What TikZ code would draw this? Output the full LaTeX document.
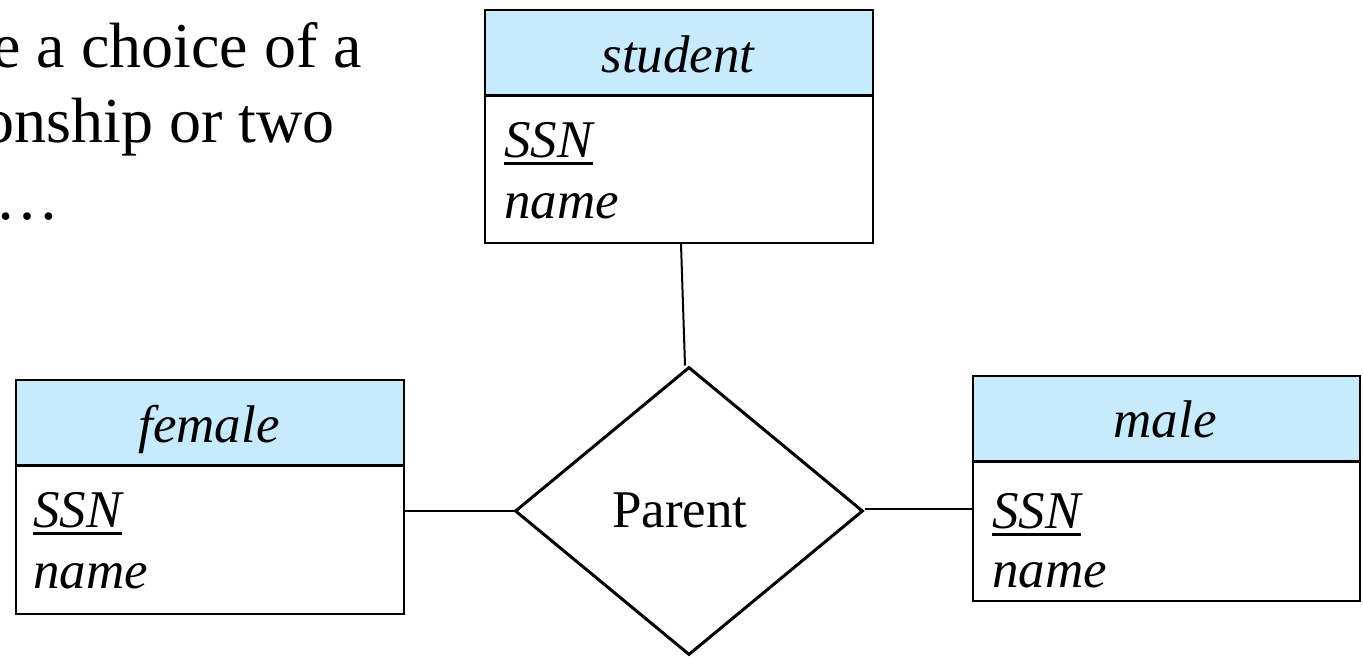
\documentclass[tikz,border=0pt]{standalone}
\usepackage{fontspec}
\setmainfont{Liberation Serif}
\usetikzlibrary{shapes.geometric}
\definecolor{entityhead}{RGB}{198,235,252}
% key attribute: text with a firm rule a little below the baseline
\newcommand{\pkey}[1]{\setbox0\hbox{#1}\rlap{\vrule height -5.2pt depth 7.9pt width \wd0}\box0}
\tikzset{
  headbox/.style={draw, fill=entityhead, line width=2pt, anchor=north west, inner sep=0},
  bodybox/.style={draw, fill=white, line width=2pt, anchor=north west, inner sep=0},
  ername/.style={inner sep=0, anchor=base, font=\fontsize{53}{60}\selectfont\itshape},
  attr/.style={inner sep=0, anchor=base west, font=\fontsize{53}{60}\selectfont\itshape},
  slide/.style={inner sep=0, font=\fontsize{64}{75}\selectfont},
  rel/.style={draw, diamond, line width=3pt, inner sep=0},
  conn/.style={line width=2pt}
}
\begin{document}
\begin{tikzpicture}[x=1pt,y=-1pt]
\path[use as bounding box] (0,0) rectangle (1363,657);

% slide text running in from the left
\node[slide, anchor=base east] (t1) at (362,67) {e a choice of a};
\node[slide, anchor=base east] (t2) at (335,142) {onship or two};
\node[slide, anchor=base west] (t3) at (-5,219) {…};

% entity: student
\node[headbox, minimum width=388, minimum height=85] (studentH) at (484,9) {};
\node[bodybox, minimum width=388, minimum height=148] (studentB) at (484,94) {};
\draw[line width=2.6pt] (studentH.south west) -- (studentH.south east);
\node[ername] (studentN) at (678,72) {student};
\node[attr] (studentA1) at (504,157) {\pkey{SSN}};
\node[attr] (studentA2) at (504,218) {name};

% entity: female
\node[headbox, minimum width=388, minimum height=85] (femaleH) at (15,379) {};
\node[bodybox, minimum width=388, minimum height=149] (femaleB) at (15,464) {};
\draw[line width=2.6pt] (femaleH.south west) -- (femaleH.south east);
\node[ername] (femaleN) at (209,442) {female};
\node[attr] (femaleA1) at (33,527) {\pkey{SSN}};
\node[attr] (femaleA2) at (33,588) {name};

% entity: male
\node[headbox, minimum width=387, minimum height=85] (maleH) at (972,375) {};
\node[bodybox, minimum width=387, minimum height=140] (maleB) at (972,460) {};
\draw[line width=2.6pt] (maleH.south west) -- (maleH.south east);
\node[ername] (maleN) at (1165,437) {male};
\node[attr] (maleA1) at (992,528) {\pkey{SSN}};
\node[attr] (maleA2) at (992,587) {name};

% relationship
\node[rel, minimum width=348, minimum height=288] (parent) at (689,511) {};
\node[slide, font=\fontsize{53}{60}\selectfont, anchor=base] (parentN) at (680,527) {Parent};

% connectors
\draw[conn] ([xshift=2]studentB.south) -- ([xshift=-4]parent.north);
\draw[conn] (parent.west) -- (parent.west -| femaleB.east);
\draw[conn] ([yshift=2]parent.east) -- ([yshift=2]parent.east -| maleB.west);
\end{tikzpicture}
\end{document}
